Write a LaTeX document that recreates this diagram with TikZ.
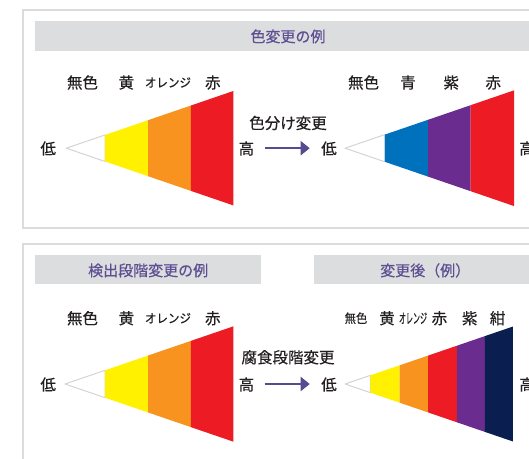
\documentclass[tikz,border=0pt]{standalone}
\usepackage{fontspec}
\setmainfont{Noto Sans CJK JP}[FakeBold=0.45]
\usetikzlibrary{arrows.meta}
\definecolor{boxline}{HTML}{DCDCDC}
\definecolor{headfill}{HTML}{DCDDDE}
\definecolor{headtext}{HTML}{5D4F92}
\definecolor{txt}{HTML}{231F20}
\definecolor{cyel}{HTML}{FFF100}
\definecolor{cora}{HTML}{F7931E}
\definecolor{cred}{HTML}{ED1C24}
\definecolor{cblu}{HTML}{0071BC}
\definecolor{cpur}{HTML}{6A2C8F}
\definecolor{cnav}{HTML}{0A1E50}
\definecolor{arrowc}{HTML}{584A8E}
\definecolor{outl}{HTML}{D4D4D4}
\newcommand\segm[5]{%
  \fill[#5] (#3,{#2-0.3425*(#3-#1)}) -- (#4,{#2-0.3425*(#4-#1)}) -- (#4,{#2+0.3425*(#4-#1)}) -- (#3,{#2+0.3425*(#3-#1)}) -- cycle;}
\newcommand\whiteseg[3]{%
  \draw[outl,line width=1pt,fill=white,line join=round] (#1,#2) -- (#3,{#2-0.3425*(#3-#1)}) -- (#3,{#2+0.3425*(#3-#1)}) -- cycle;}
\tikzset{
  panel/.style={draw=boxline,line width=1.5pt},
  head/.style={fill=headfill},
  htitle/.style={text=headtext,font=\fontsize{15}{15}\selectfont,inner sep=0pt},
  lab/.style={text=txt,font=\fontsize{15.5}{15.5}\selectfont,inner sep=0pt},
  slab/.style={text=txt,font=\fontsize{12.5}{12.5}\selectfont,inner sep=0pt},
  conn/.style={draw=arrowc,line width=2pt,-{Triangle[length=9pt,width=14pt]}},
}
\begin{document}
\begin{tikzpicture}[x=1pt,y=-1pt]
\useasboundingbox (0,0) rectangle (529,458);
\clip (0,0) rectangle (529,458);
% panels
\draw[panel] (23.2,10.1) rectangle (560,228);
\draw[panel] (23.2,244.1) rectangle (560,490);
\fill[head] (35,21.2) rectangle (560,50.5);
\fill[head] (35,255.3) rectangle (261.3,284.2);
\fill[head] (314.4,255.3) rectangle (560,284.2);
\node[htitle] (t1) at (288,36.4) {色変更の例};
\node[htitle] (t2) at (148.2,270.4) {検出段階変更の例};
\node[htitle] (t3) at (425.2,270.4) {変更後（例）};
% triangle 1
\whiteseg{66.3}{148.2}{105}
\segm{66.3}{148.2}{105}{148.2}{cyel}
\segm{66.3}{148.2}{148.2}{190.9}{cora}
\segm{66.3}{148.2}{190.9}{233.3}{cred}
\node[lab] (l1a) at (82.5,82.5) {無色};
\node[lab] (l1b) at (126.3,82.5) {黄};
\node[slab] (l1c) at (168,82.5) {\scalebox{0.92}[1]{オレンジ}};
\node[lab] (l1d) at (212.8,82.5) {赤};
\node[lab] (lo1) at (48.2,148.5) {低};
\node[lab] (hi1) at (246.4,148.5) {高};
\node[lab] (c1) at (288,123) {色分け変更};
\coordinate (a1s) at (264.6,148.2);
\coordinate (a1e) at (309.7,148.2);
\draw[conn] (a1s) -- (a1e);
% triangle 2
\whiteseg{345.1}{148.2}{384.8}
\segm{345.1}{148.2}{384.8}{428.2}{cblu}
\segm{345.1}{148.2}{428.2}{470.6}{cpur}
\segm{345.1}{148.2}{470.6}{514.1}{cred}
\node[lab] (l2a) at (363.6,82.5) {無色};
\node[lab] (l2b) at (408,82.5) {青};
\node[lab] (l2c) at (451.2,82.5) {紫};
\node[lab] (l2d) at (493.2,82.5) {赤};
\node[lab] (lo2) at (329,148.5) {低};
\node[lab] (hi2) at (527,148.5) {高};
% triangle 3
\whiteseg{65}{384}{105}
\segm{65}{384}{105}{148.2}{cyel}
\segm{65}{384}{148.2}{190.9}{cora}
\segm{65}{384}{190.9}{233.3}{cred}
\node[lab] (l3a) at (82.5,318.2) {無色};
\node[lab] (l3b) at (126.3,318.2) {黄};
\node[slab] (l3c) at (168,318.2) {\scalebox{0.92}[1]{オレンジ}};
\node[lab] (l3d) at (212.8,318.2) {赤};
\node[lab] (lo3) at (48.2,384.5) {低};
\node[lab] (hi3) at (246.4,384.5) {高};
\node[lab] (c2) at (288,357.3) {腐食段階変更};
\coordinate (a2s) at (264.6,384);
\coordinate (a2e) at (309.7,384);
\draw[conn] (a2s) -- (a2e);
% triangle 4
\whiteseg{345.1}{384}{370.3}
\segm{345.1}{384}{370.3}{399.6}{cyel}
\segm{345.1}{384}{399.6}{428.2}{cora}
\segm{345.1}{384}{428.2}{456.8}{cred}
\segm{345.1}{384}{456.8}{484.8}{cpur}
\segm{345.1}{384}{484.8}{512.8}{cnav}
\node[slab] (l4a) at (356,318.2) {\scalebox{0.9}[1]{無色}};
\node[lab] (l4b) at (387,318.2) {黄};
\node[lab] (l4c) at (413,318.2) {\fontsize{14}{14}\selectfont\scalebox{0.5}[1]{オレンジ}};
\node[lab] (l4d) at (439.4,318.2) {赤};
\node[lab] (l4e) at (469.7,318.2) {紫};
\node[lab] (l4f) at (497.6,318.2) {紺};
\node[lab] (lo4) at (329,384.5) {低};
\node[lab] (hi4) at (527,384.5) {高};
\end{tikzpicture}
\end{document}
